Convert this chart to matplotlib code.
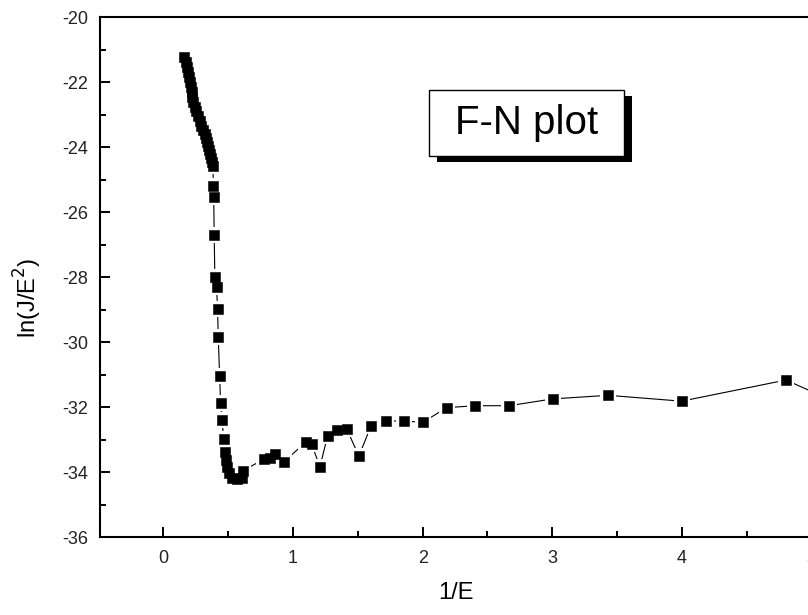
import matplotlib

matplotlib.use("Agg")
import matplotlib.pyplot as plt
from matplotlib.patches import Rectangle
from matplotlib.ticker import MultipleLocator

plt.rcParams["font.family"] = ["Liberation Sans", "DejaVu Sans"]
plt.rcParams["axes.unicode_minus"] = False

# 1/E vs ln(J/E^2)
inv_e = [
    0.162, 0.174, 0.181, 0.193, 0.201, 0.204, 0.212, 0.220, 0.224, 0.231,
    0.243, 0.255, 0.266, 0.282, 0.293, 0.305, 0.320, 0.332, 0.340, 0.347,
    0.355, 0.363, 0.370, 0.374, 0.382, 0.386, 0.388, 0.392, 0.397, 0.410,
    0.418, 0.423, 0.434, 0.441, 0.451, 0.467, 0.477, 0.482, 0.492, 0.505,
    0.526, 0.565, 0.603, 0.611, 0.775, 0.822, 0.860, 0.930, 1.097, 1.144,
    1.208, 1.267, 1.341, 1.414, 1.508, 1.601, 1.717, 1.853, 2.002, 2.185,
    2.406, 2.668, 3.003, 3.432, 3.998, 4.803, 6.000,
]
ln_j_e2 = [
    -21.23, -21.38, -21.54, -21.69, -21.85, -22.00, -22.15, -22.31, -22.46, -22.62,
    -22.77, -22.89, -23.05, -23.20, -23.35, -23.48, -23.60, -23.72, -23.85, -23.97,
    -24.09, -24.22, -24.34, -24.46, -24.58, -25.20, -25.53, -26.71, -27.99, -28.30,
    -28.98, -29.84, -31.05, -31.87, -32.40, -32.99, -33.37, -33.63, -33.84, -34.04,
    -34.19, -34.22, -34.19, -33.96, -33.61, -33.58, -33.45, -33.68, -33.09, -33.15,
    -33.84, -32.88, -32.71, -32.67, -33.51, -32.59, -32.43, -32.43, -32.47, -32.02,
    -31.96, -31.96, -31.75, -31.64, -31.82, -31.17, -33.30,
]

fig = plt.figure(figsize=(8.08, 6.15), dpi=100)
ax = fig.add_axes([0.1241, 0.1268, 0.8802, 0.8455])

# line, then white halos (Origin-style gap), then the black squares
ax.plot(inv_e, ln_j_e2, "-", color="black", lw=0.8, zorder=2)
ax.plot(inv_e, ln_j_e2, "s", color="white", ms=11.5, mew=0, ls="none", zorder=3)
ax.plot(inv_e, ln_j_e2, "s", color="black", ms=6.8, mew=0.4, ls="none", zorder=4)

ax.set_xlim(-0.487, 5.0)
ax.set_ylim(-36, -20)
ax.xaxis.set_major_locator(MultipleLocator(1))
ax.xaxis.set_minor_locator(MultipleLocator(0.5))
ax.yaxis.set_major_locator(MultipleLocator(2))
ax.yaxis.set_minor_locator(MultipleLocator(1))
ax.tick_params(which="both", direction="in", width=1.4, labelsize=13, pad=9,
               labelcolor="#222222")
ax.tick_params(which="major", length=7)
ax.tick_params(which="minor", length=4)
for s in ax.spines.values():
    s.set_linewidth(1.5)

fig.text(456 / 808, 1 - 593 / 615, "1/E", fontsize=17, ha="center", va="center")
fig.text(28 / 808, 1 - 298 / 615, "ln(J/E$^2$)", fontsize=17, ha="center",
         va="center", rotation=90)

# F-N plot label box with drop shadow (pixel coords of the reference)
W, H = 808, 615
bx0, bx1, by0, by1 = 429, 624, 90, 156
fig.patches.append(Rectangle(((bx0 + 8) / W, 1 - (by1 + 6) / H),
                             (bx1 - bx0) / W, (by1 - by0) / H,
                             transform=fig.transFigure, facecolor="black",
                             edgecolor="black", lw=0, zorder=5))
fig.patches.append(Rectangle((bx0 / W, 1 - by1 / H),
                             (bx1 - bx0) / W, (by1 - by0) / H,
                             transform=fig.transFigure, facecolor="white",
                             edgecolor="black", lw=1.0, zorder=6))
fig.text((bx0 + bx1) / 2 / W, 1 - 134 / H, "F-N plot", fontsize=29,
         ha="center", va="baseline", zorder=7)

fig.savefig("out.png", dpi=100)
